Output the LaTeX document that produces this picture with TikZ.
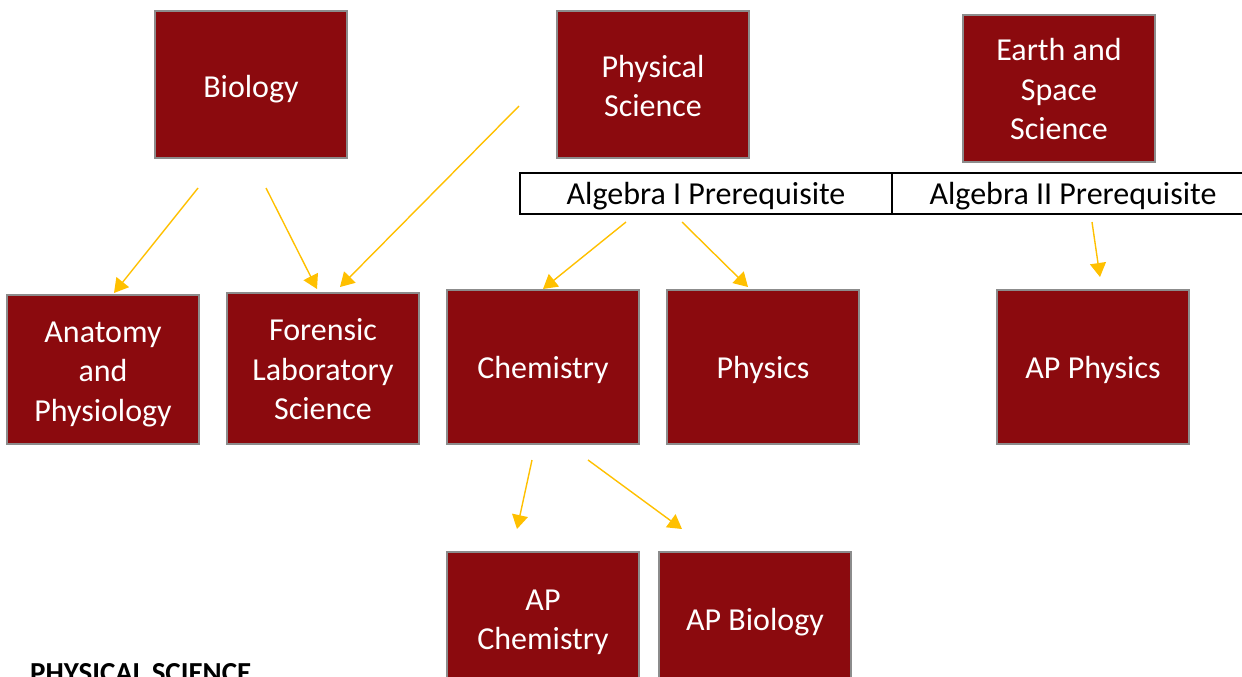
\documentclass[tikz,border=0pt]{standalone}
\usepackage{fontspec}
\setmainfont{Carlito}
\usetikzlibrary{arrows.meta}
\definecolor{boxred}{RGB}{139,10,14}
\definecolor{boxgray}{RGB}{140,140,140}
\definecolor{arrowgold}{RGB}{255,192,0}
\tikzset{
  course/.style={draw=boxgray, line width=2.5pt, fill=boxred, inner sep=0pt, minimum width=192pt},
  coursetext/.style={text=white, align=center, inner sep=0pt, yshift=-2.5pt,
    font=\fontsize{32}{39.5}\selectfont},
  prereq/.style={draw=black, line width=1.8pt, inner sep=0pt, minimum height=41pt},
  prereqtext/.style={inner sep=0pt, yshift=-2.5pt, font=\fontsize{32}{39.5}\selectfont},
  link/.style={draw=arrowgold, line width=1.4pt, -{Triangle[length=14pt,width=16pt]}}
}
\begin{document}
\begin{tikzpicture}[x=1pt,y=-1pt]
\path[use as bounding box] (0,0) rectangle (1242,677);
\clip (0,0) rectangle (1242,677);

% top row
\node[course, minimum height=147pt] (bio) at (251,84.5) {};
\node[coursetext, yshift=-2pt] (biot) at (bio.center) {Biology};
\node[course, minimum height=147pt] (phys) at (653,84.5) {};
\node[coursetext, yshift=1pt] (physt) at (phys.center) {Physical\\Science};
\node[course, minimum height=147pt] (earth) at (1059,88.5) {};
\node[coursetext, yshift=2pt] (eartht) at (earth.center) {Earth and\\Space\\Science};

% prerequisite bar
\node[prereq, minimum width=372pt] (alg1) at (706,193.5) {};
\node[prereqtext] (alg1t) at (alg1.center) {Algebra I Prerequisite};
\node[prereq, minimum width=362pt] (alg2) at (1073,193.5) {};
\node[prereqtext] (alg2t) at (alg2.center) {Algebra II Prerequisite};

% middle row
\node[course, minimum height=149pt] (anat) at (103,369.5) {};
\node[coursetext, yshift=-2pt] (anatt) at (anat.center) {Anatomy\\and\\Physiology};
\node[course, minimum height=151pt] (foren) at (323,368.5) {};
\node[coursetext, yshift=1.5pt] (forent) at (foren.center) {Forensic\\Laboratory\\Science};
\node[course, minimum height=154pt] (chem) at (543,367) {};
\node[coursetext] (chemt) at (chem.center) {Chemistry};
\node[course, minimum height=154pt] (physics) at (763,367) {};
\node[coursetext] (physicst) at (physics.center) {Physics};
\node[course, minimum height=154pt] (apphys) at (1093,367) {};
\node[coursetext] (apphyst) at (apphys.center) {AP Physics};

% bottom row
\node[course, minimum height=136pt] (apchem) at (543,620) {};
\node[coursetext] (apchemt) at (apchem.center) {AP\\Chemistry};
\node[course, minimum height=136pt] (apbio) at (755,620) {};
\node[coursetext] (apbiot) at (apbio.center) {AP Biology};

% section title
\node[anchor=base west, inner sep=0pt, font=\bfseries\fontsize{29}{34}\selectfont] (title) at (30,682) {PHYSICAL SCIENCE};

% connector ends
\coordinate (s1) at (198,188);  \coordinate (e1) at (114,293);
\coordinate (s2) at (266,188);  \coordinate (e2) at (317,289);
\coordinate (s3) at (519,106);  \coordinate (e3) at (340,287);
\coordinate (s4) at (626,222);  \coordinate (e4) at (543,289);
\coordinate (s5) at (682,222);  \coordinate (e5) at (748,287);
\coordinate (s6) at (1092,222); \coordinate (e6) at (1100,277);
\coordinate (s7) at (532,460);  \coordinate (e7) at (517,529);
\coordinate (s8) at (588,460);  \coordinate (e8) at (682,529);

\draw[link] (s1) -- (e1);
\draw[link] (s2) -- (e2);
\draw[link] (s3) -- (e3);
\draw[link] (s4) -- (e4);
\draw[link] (s5) -- (e5);
\draw[link] (s6) -- (e6);
\draw[link] (s7) -- (e7);
\draw[link] (s8) -- (e8);
\end{tikzpicture}
\end{document}
